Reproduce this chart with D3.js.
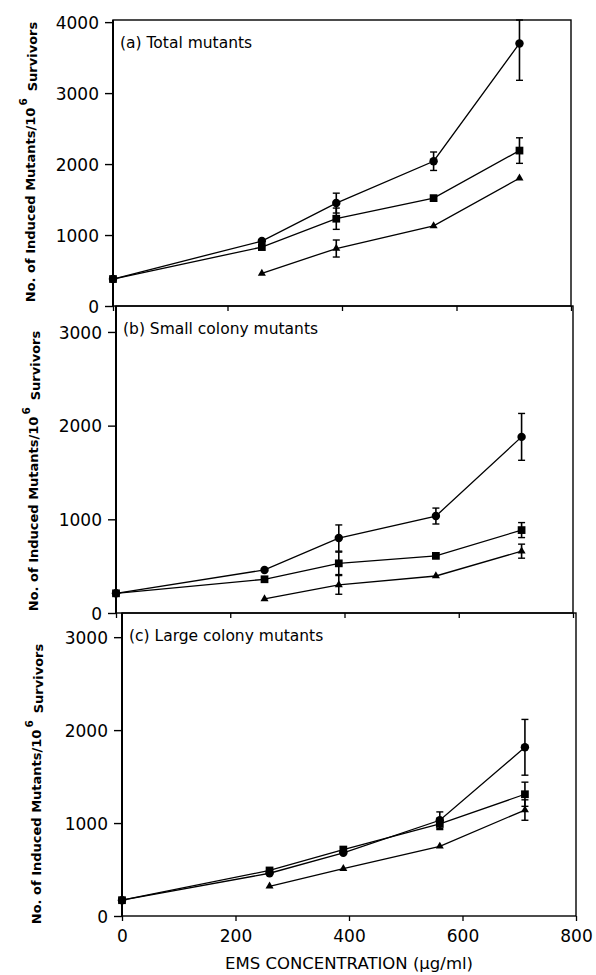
<!DOCTYPE html>
<html>
<head>
<meta charset="utf-8">
<script src="https://cdn.jsdelivr.net/npm/d3@7"></script>
<style>
  body { margin: 0; background: #fff; }
  text { font-family: "DejaVu Sans", sans-serif; fill: #000; }
</style>
</head>
<body>
<div id="chart"></div>
<script>
// EMS doses (ug/ml) shared by all three panels
var doses = [0, 260, 390, 560, 710];
var xTicks = [0, 200, 400, 600, 800];

var panelTitles = ["(a) Total mutants", "(b) Small colony mutants", "(c) Large colony mutants"];
var yTicksTotal = [0, 1000, 2000, 3000, 4000];
var yTicksColony = [0, 1000, 2000, 3000];

// (a) total mutants
var totalCircle = [380, 915, 1450, 2040, 3700];
var totalCircleErr = [0, 0, 140, 130, 520];
var totalSquare = [380, 830, 1230, 1520, 2190];
var totalSquareErr = [0, 0, 150, 0, 180];
var totalTriangle = [null, 460, 810, 1130, 1800];
var totalTriangleErr = [0, 0, 120, 0, 0];

// (b) small colony mutants
var smallCircle = [210, 460, 800, 1035, 1880];
var smallCircleErr = [0, 0, 140, 85, 250];
var smallSquare = [210, 360, 530, 610, 885];
var smallSquareErr = [0, 0, 120, 0, 80];
var smallTriangle = [null, 150, 300, 395, 660];
var smallTriangleErr = [0, 0, 100, 0, 75];

// (c) large colony mutants
var largeCircle = [170, 460, 680, 1030, 1815];
var largeCircleErr = [0, 0, 0, 90, 300];
var largeSquare = [170, 490, 715, 990, 1310];
var largeSquareErr = [0, 0, 0, 60, 130];
var largeTriangle = [null, 320, 510, 750, 1140];
var largeTriangleErr = [0, 0, 0, 0, 110];

var fullWidth = 596, fullHeight = 975;

var svg = d3.select("#chart").append("svg")
    .attr("width", fullWidth)
    .attr("height", fullHeight);

// Layout of the three stacked panels (pixel boxes)
var panels = [
    { title: panelTitles[0], yMax: 4030, yTicks: yTicksTotal, top: 20, bottom: 306, left: 113, right: 571, labelX: 35, labelMid: 162,
      series: [[totalCircle, totalCircleErr, "circle"], [totalSquare, totalSquareErr, "square"], [totalTriangle, totalTriangleErr, "triangle"]] },
    { title: panelTitles[1], yMax: 3277, yTicks: yTicksColony, top: 306, bottom: 613, left: 116, right: 573, labelX: 38, labelMid: 471,
      series: [[smallCircle, smallCircleErr, "circle"], [smallSquare, smallSquareErr, "square"], [smallTriangle, smallTriangleErr, "triangle"]] },
    { title: panelTitles[2], yMax: 3260, yTicks: yTicksColony, top: 613, bottom: 916, left: 122, right: 576, labelX: 41, labelMid: 784,
      series: [[largeCircle, largeCircleErr, "circle"], [largeSquare, largeSquareErr, "square"], [largeTriangle, largeTriangleErr, "triangle"]] }
];

var symbolFor = {
    circle: d3.symbol().type(d3.symbolCircle).size(56),
    square: d3.symbol().type(d3.symbolSquare).size(60),
    triangle: d3.symbol().type(d3.symbolTriangle).size(28)
};

panels.forEach(function(p, pi) {
    var x = d3.scaleLinear().domain([0, 800]).range([p.left, p.right]);
    var y = d3.scaleLinear().domain([0, p.yMax]).range([p.bottom, p.top]);
    var g = svg.append("g");

    // Frame
    g.append("rect")
        .attr("x", p.left).attr("y", p.top)
        .attr("width", p.right - p.left).attr("height", p.bottom - p.top)
        .attr("fill", "none").attr("stroke", "#000").attr("stroke-width", 1.4);
    g.append("line")
        .attr("x1", p.left).attr("x2", p.left)
        .attr("y1", p.top).attr("y2", p.bottom)
        .attr("stroke", "#000").attr("stroke-width", 2);

    // Y axis
    var yAxis = g.append("g")
        .attr("transform", "translate(" + p.left + ",0)")
        .call(d3.axisLeft(y).tickValues(p.yTicks).tickSize(8).tickPadding(6).tickFormat(d3.format("d")));
    yAxis.select(".domain").remove();
    yAxis.selectAll(".tick line").attr("stroke-width", 1.4);
    yAxis.selectAll("text").style("font-size", "17px").attr("dy", "0.36em");

    // X axis: ticks pointing down; labels only on the bottom panel
    var xAxis = g.append("g")
        .attr("transform", "translate(0," + p.bottom + ")")
        .call(d3.axisBottom(x).tickValues(xTicks).tickSize(5).tickPadding(9)
            .tickFormat(pi === panels.length - 1 ? d3.format("d") : ""));
    xAxis.select(".domain").remove();
    xAxis.selectAll(".tick line").attr("stroke-width", 1.3);
    xAxis.selectAll("text").style("font-size", "17px");

    // Panel title
    g.append("text")
        .attr("x", p.left + 7)
        .attr("y", p.top + 28)
        .style("font-size", "15.5px")
        .text(p.title);

    // Y axis label with superscript
    var lab = g.append("text")
        .attr("transform", "translate(" + p.labelX + "," + p.labelMid + ") rotate(-90)")
        .attr("text-anchor", "middle")
        .style("font-size", "13px")
        .style("font-weight", "bold");
    lab.append("tspan").text("No. of Induced Mutants/10");
    lab.append("tspan").attr("dy", "-0.75em").attr("dx", "2").style("font-size", "10.5px").text("6");
    lab.append("tspan").attr("dy", "0.75em").attr("dx", "7").text("Survivors");

    var line = d3.line()
        .defined(function(d) { return d.v != null; })
        .x(function(d) { return x(d.x); })
        .y(function(d) { return y(d.v); });

    p.series.forEach(function(s) {
        var pts = doses.map(function(d, i) { return { x: d, v: s[0][i], e: s[1][i] }; });
        var valid = pts.filter(function(d) { return d.v != null; });

        g.append("path")
            .datum(pts)
            .attr("fill", "none")
            .attr("stroke", "#000")
            .attr("stroke-width", 1.3)
            .attr("d", line);

        // Error bars
        valid.filter(function(d) { return d.e > 0; }).forEach(function(d) {
            var hi = Math.min(d.v + d.e, p.yMax), lo = d.v - d.e;
            var cx = x(d.x);
            g.append("line").attr("x1", cx).attr("x2", cx)
                .attr("y1", y(hi)).attr("y2", y(lo))
                .attr("stroke", "#000").attr("stroke-width", 1.6);
            [hi, lo].forEach(function(v) {
                g.append("line").attr("x1", cx - 3.5).attr("x2", cx + 3.5)
                    .attr("y1", y(v)).attr("y2", y(v))
                    .attr("stroke", "#000").attr("stroke-width", 1.4);
            });
        });

        g.selectAll(null)
            .data(valid)
            .enter().append("path")
            .attr("d", symbolFor[s[2]])
            .attr("transform", function(d) { return "translate(" + x(d.x) + "," + y(d.v) + ")"; })
            .attr("fill", "#000");
    });
});

// X axis title
svg.append("text")
    .attr("x", 349)
    .attr("y", 969)
    .attr("text-anchor", "middle")
    .style("font-size", "16.5px")
    .text("EMS CONCENTRATION (\u03BCg/ml)");
</script>
</body>
</html>
